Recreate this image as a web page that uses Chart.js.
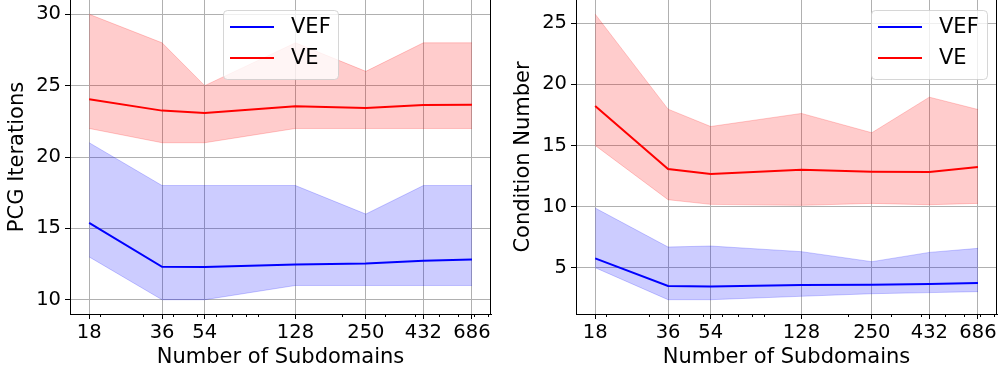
<!DOCTYPE html>
<html>
<head>
<meta charset="utf-8">
<script src="https://cdn.jsdelivr.net/npm/chart.js@4.4.1/dist/chart.umd.min.js"></script>
<style>
  body { margin: 0; background: #fff; }
  .panel { position: absolute; top: 0; width: 500px; height: 375px; }
</style>
</head>
<body>
<div class="panel" style="left:0"><canvas id="pcg" width="500" height="375"></canvas></div>
<div class="panel" style="left:500px"><canvas id="cond" width="500" height="375"></canvas></div>
<script>
const subdomains = [18, 36, 54, 128, 250, 432, 686];
const minorTicks = [20, 30, 40, 50, 60, 70, 80, 90, 200, 300, 400, 500, 600, 700, 800];

// PCG iterations
const pcgVefMean = [15.38, 12.31, 12.29, 12.47, 12.54, 12.73, 12.82];
const pcgVefMax = [21, 18, 18, 18, 16, 18, 18];
const pcgVefMin = [13, 10, 10, 11, 11, 11, 11];
const pcgVeMean = [24.05, 23.25, 23.08, 23.55, 23.43, 23.64, 23.66];
const pcgVeMax = [30, 28, 25, 28, 26, 28, 28];
const pcgVeMin = [22, 21, 21, 22, 22, 22, 22];
const pcgTicks = [10, 15, 20, 25, 30];

// condition number
const condVefMean = [5.76, 3.50, 3.47, 3.58, 3.61, 3.66, 3.75];
const condVefMax = [9.88, 6.69, 6.77, 6.31, 5.49, 6.25, 6.58];
const condVefMin = [5.0, 2.38, 2.38, 2.66, 2.87, 2.96, 3.04];
const condVeMean = [18.22, 13.07, 12.66, 13.01, 12.85, 12.82, 13.23];
const condVeMax = [25.74, 17.97, 16.55, 17.62, 16.04, 18.95, 17.94];
const condVeMin = [15.0, 10.56, 10.18, 10.10, 10.26, 10.15, 10.26];
const condTicks = [5, 10, 15, 20, 25];

const FONT = 'DejaVu Sans';
const BLUE = '#0000ff';
const RED = '#ff0000';

function pts(arr) {
    return subdomains.map((x, i) => ({x: x, y: arr[i]}));
}

// legend box, right spine and minor x ticks (matplotlib look)
const extras = {
    id: 'extras',
    afterDraw(chart, args, opts) {
        const ctx = chart.ctx;
        const area = chart.chartArea;
        const xs = chart.scales.x;
        ctx.save();
        ctx.strokeStyle = '#000';
        ctx.lineWidth = 1;
        ctx.beginPath();
        ctx.moveTo(Math.round(area.right) - 0.5, area.top);
        ctx.lineTo(Math.round(area.right) - 0.5, area.bottom);
        minorTicks.forEach(v => {
            const px = Math.round(xs.getPixelForValue(v)) + 0.5;
            ctx.moveTo(px, area.bottom);
            ctx.lineTo(px, area.bottom + 3);
        });
        ctx.stroke();

        // legend
        const b = opts.box;
        ctx.beginPath();
        ctx.roundRect(b.x + 0.5, b.y + 0.5, b.w, b.h, 4);
        ctx.fillStyle = 'rgba(255,255,255,0.8)';
        ctx.fill();
        ctx.strokeStyle = 'rgba(204,204,204,0.8)';
        ctx.stroke();
        const items = chart.data.datasets.filter(d => d.inLegend);
        ctx.font = '21px "' + FONT + '"';
        ctx.textBaseline = 'middle';
        ctx.textAlign = 'left';
        items.forEach((d, i) => {
            const y = b.y + 17 + i * 31;
            ctx.strokeStyle = d.borderColor;
            ctx.lineWidth = 2;
            ctx.beginPath();
            ctx.moveTo(b.x + 7, y);
            ctx.lineTo(b.x + 51, y);
            ctx.stroke();
            ctx.fillStyle = '#000';
            ctx.fillText(d.label, b.x + 68, y + 1);
        });
        ctx.restore();
    }
};

function makeChart(id, c) {
    const datasets = [
        {label: 'VEF', inLegend: true, data: pts(c.vefMean), borderColor: BLUE, borderWidth: 2, order: 0, fill: false},
        {label: 'VE', inLegend: true, data: pts(c.veMean), borderColor: RED, borderWidth: 2, order: 0, fill: false},
        {label: 'vef max', data: pts(c.vefMax), borderColor: 'rgba(0,0,255,0.2)', backgroundColor: 'rgba(0,0,255,0.2)', borderWidth: 1, order: 1, fill: 3},
        {label: 'vef min', data: pts(c.vefMin), borderColor: 'rgba(0,0,255,0.2)', borderWidth: 1, order: 1, fill: false},
        {label: 've max', data: pts(c.veMax), borderColor: 'rgba(255,0,0,0.2)', backgroundColor: 'rgba(255,0,0,0.2)', borderWidth: 1, order: 1, fill: 5},
        {label: 've min', data: pts(c.veMin), borderColor: 'rgba(255,0,0,0.2)', borderWidth: 1, order: 1, fill: false}
    ];

    return new Chart(document.getElementById(id).getContext('2d'), {
        type: 'line',
        data: {datasets: datasets},
        plugins: [extras],
        options: {
            responsive: false,
            animation: false,
            devicePixelRatio: 1,
            elements: {point: {radius: 0}, line: {tension: 0}},
            layout: {padding: {left: 0, right: c.rightPad, top: 0, bottom: 0}},
            scales: {
                x: {
                    type: 'logarithmic',
                    min: 15.0,
                    max: 822,
                    afterBuildTicks: s => { s.ticks = subdomains.map(v => ({value: v})); },
                    afterFit: s => { s.height = 61; s.paddingLeft = 0; s.paddingRight = 0; },
                    ticks: {
                        autoSkip: false, maxRotation: 0, padding: 2, color: '#000',
                        font: {family: FONT, size: 19.5},
                        callback: v => String(v)
                    },
                    grid: {color: '#b0b0b0', lineWidth: 1, tickColor: '#000', tickLength: 5},
                    border: {color: '#000', width: 1},
                    title: {display: true, text: 'Number of Subdomains', color: '#000',
                        font: {family: FONT, size: 21}, padding: {top: 0, bottom: 5}}
                },
                y: {
                    type: 'linear',
                    min: c.yMin,
                    max: c.yMax,
                    afterBuildTicks: s => { s.ticks = c.yTicks.map(v => ({value: v})); },
                    afterFit: s => { s.width = c.yWidth; s.paddingTop = 0; s.paddingBottom = 0; },
                    ticks: {padding: 4, color: '#000', font: {family: FONT, size: 19.5}},
                    grid: {color: '#b0b0b0', lineWidth: 1, tickColor: '#000', tickLength: 5},
                    border: {color: '#000', width: 1},
                    title: {display: true, text: c.yTitle, color: '#000',
                        font: {family: FONT, size: 21}, padding: {top: c.yTitlePad, bottom: 0}}
                }
            },
            plugins: {
                legend: {display: false},
                tooltip: {enabled: false},
                extras: {box: c.legend}
            }
        }
    });
}

makeChart('pcg', {
    vefMean: pcgVefMean, vefMax: pcgVefMax, vefMin: pcgVefMin,
    veMean: pcgVeMean, veMax: pcgVeMax, veMin: pcgVeMin,
    yMin: 9, yMax: 31, yTicks: pcgTicks, yTitle: 'PCG Iterations',
    yWidth: 70, rightPad: 9, yTitlePad: 5,
    legend: {x: 223, y: 10, w: 115, h: 69}
});

makeChart('cond', {
    vefMean: condVefMean, vefMax: condVefMax, vefMin: condVefMin,
    veMean: condVeMean, veMax: condVeMax, veMin: condVeMin,
    yMin: 1.21, yMax: 26.9, yTicks: condTicks, yTitle: 'Condition Number',
    yWidth: 76, rightPad: 3, yTitlePad: 11,
    legend: {x: 371, y: 10, w: 116, h: 69}
});
</script>
</body>
</html>
